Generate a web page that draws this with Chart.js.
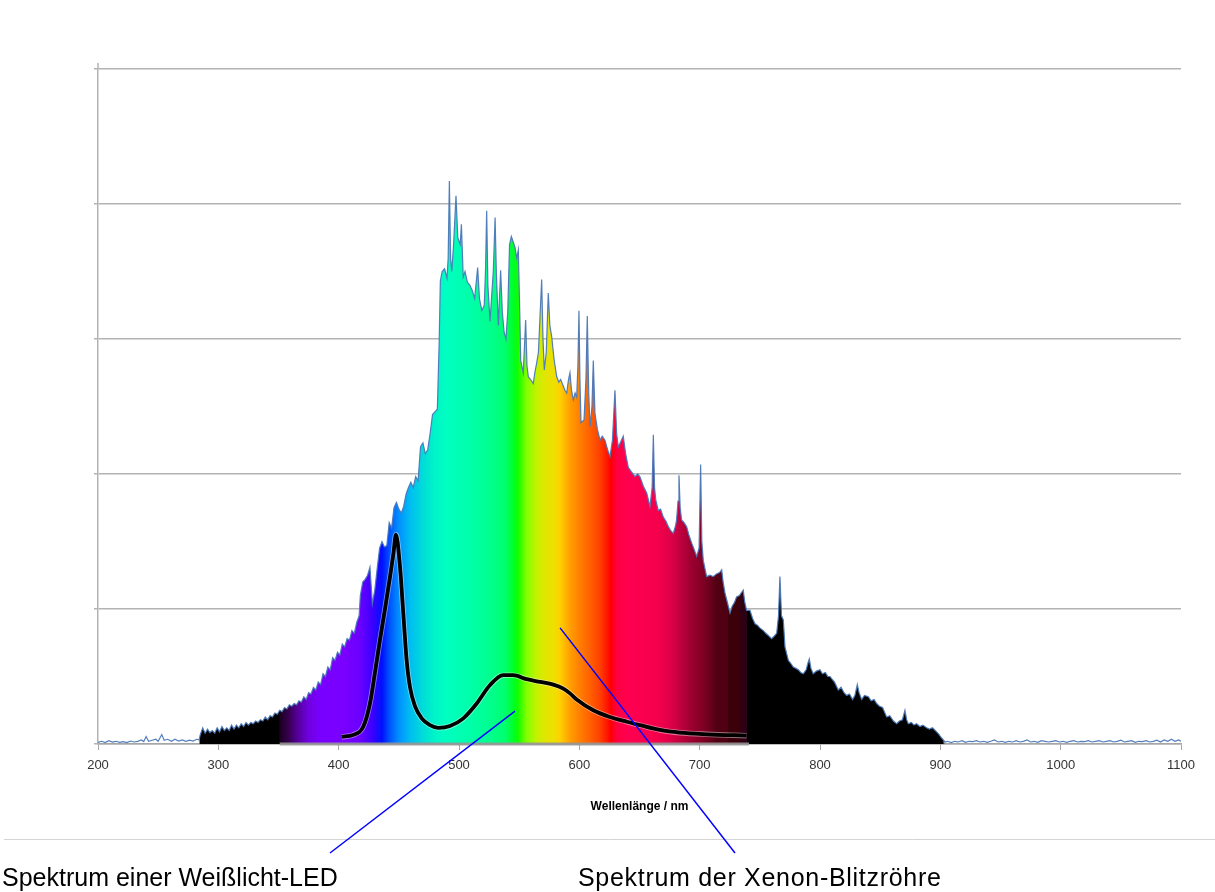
<!DOCTYPE html>
<html><head><meta charset="utf-8">
<script src="https://cdn.jsdelivr.net/npm/chart.js@4"></script>
<style>html,body{margin:0;padding:0;background:#fff;overflow:hidden}canvas{display:block}</style>
</head><body>
<canvas id="c" width="1215" height="892"></canvas>
<script>
// ---------- DATA ----------
const xTicks = [200, 300, 400, 500, 600, 700, 800, 900, 1000, 1100];
const yGridLevels = [0, 1, 2, 3, 4, 5];
const xTitle = 'Wellenlänge / nm';
const ledLabel = 'Spektrum einer Weißlicht-LED';
const xenonLabel = 'Spektrum der Xenon-Blitzröhre';

// Xenon flash tube spectrum: [wavelength nm, relative intensity]
const xenonSpectrum = [
 [200,0.012],[203,0.02],[206,0.01],[209,0.024],[212,0.014],[215,0.02],[218,0.012],[221,0.018],[224,0.01],[227,0.022],
 [230,0.015],[233,0.02],[236,0.03],[238,0.018],[240,0.055],[242,0.02],[245,0.028],[248,0.035],[250,0.02],[253,0.07],
 [255,0.028],[258,0.035],[261,0.02],[264,0.035],[267,0.022],[270,0.03],[273,0.02],[276,0.028],[279,0.022],[282,0.035],[284,0.03],
 [285,0.07],[287,0.12],[289,0.08],[291,0.11],[293,0.085],[295,0.1],[297,0.08],[299,0.12],[301,0.09],[303,0.13],
 [305,0.1],[307,0.12],[309,0.1],[311,0.14],[313,0.11],[315,0.14],[317,0.12],[319,0.15],[321,0.13],[323,0.16],
 [325,0.14],[327,0.16],[329,0.15],[331,0.17],[333,0.16],[335,0.18],[337,0.17],[339,0.2],[341,0.18],[343,0.21],
 [345,0.2],[347,0.23],[349,0.22],[351,0.25],
 [353,0.24],[355,0.27],[357,0.26],[359,0.29],[361,0.28],[363,0.3],[365,0.29],[367,0.32],[369,0.31],[371,0.35],
 [373,0.33],[375,0.38],[377,0.37],[379,0.42],[381,0.4],[383,0.46],[385,0.44],[387,0.52],[389,0.5],[391,0.57],
 [393,0.55],[395,0.64],[397,0.62],[399,0.68],[401,0.66],[403,0.74],[405,0.72],[407,0.78],[409,0.77],[411,0.84],
 [413,0.82],[415,0.9],[417,0.95],[418,1.1],[420,1.2],[422,1.22],[424,1.25],[426,1.31],[428,1.04],[430,1.14],
 [432,1.3],[434,1.45],[436,1.5],[438,1.46],[440,1.47],[442,1.64],[444,1.6],[446,1.75],[448,1.79],[450,1.74],
 [452,1.71],[454,1.76],[456,1.85],[458,1.9],[460,1.94],[462,1.9],[464,1.98],[466,1.95],[468,2.2],[470,2.23],
 [472,2.15],[474,2.18],[476,2.3],[478,2.44],[480,2.46],[482,2.48],[483.5,2.97],[484.5,3.43],[486,3.5],[488,3.52],
 [490,3.45],[491,3.6],[492,4.17],[493,3.6],[494,3.5],[495.5,3.7],[497.5,4.06],[499,3.75],[501,3.7],[502,3.85],
 [503.5,3.46],[505,3.5],[507,3.42],[509,3.4],[511,3.36],[513,3.3],[515.5,3.53],[517,3.3],[519,3.21],[521,3.25],
 [522,3.5],[523,3.95],[524,3.4],[525.8,3.13],[527,3.3],[528.5,3.5],[530,3.9],[531,3.5],[532.7,3.1],[534.6,3.51],
 [536,3.2],[537.5,3.05],[539,3.0],[540.5,3.2],[542,3.7],[543.5,3.76],[545,3.72],[546.5,3.68],[548,3.6],[549.3,3.66],
 [550.5,3.2],[551.3,2.84],[553.4,2.75],[555.4,3.14],[556.5,2.8],[557.6,2.72],[559.5,2.7],[561.7,2.67],[563,2.75],[564.5,2.82],
 [566,2.9],[567.5,3.2],[568.7,3.44],[569.8,3.0],[570.9,2.77],[572.5,2.9],[574.2,3.34],[575.5,3.1],[577,3.02],[579,2.85],
 [581.2,2.72],[583,2.68],[584.5,2.7],[586.7,2.65],[588,2.62],[589.5,2.6],[591,2.7],[592.2,2.75],[593.5,2.62],[595,2.55],
 [596.5,2.6],[597.8,2.57],[598.8,2.8],[599.7,3.21],[600.5,2.7],[601.4,2.38],[603.9,2.4],[605.5,2.7],[606.6,3.17],[607.8,2.6],
 [608.9,2.35],[610.5,2.5],[611.6,2.84],[613,2.45],[615,2.33],[617.2,2.25],[619,2.28],[621.3,2.25],[623.5,2.18],[625.5,2.13],
 [627.5,2.25],[629.6,2.62],[631,2.3],[632.4,2.2],[634.5,2.24],[636.5,2.28],[638.5,2.15],[640.7,2.05],[643,2.02],[646.3,1.98],
 [648.5,2.0],[650.4,1.98],[653.2,1.91],[656,1.86],[658.7,1.76],[660.5,1.9],[661.5,2.29],[662.5,1.9],[663.5,1.81],[665.6,1.73],
 [667.5,1.74],[669.8,1.68],[672,1.65],[674,1.61],[676,1.58],[678.1,1.56],[680,1.62],[680.8,1.66],[682,1.8],[682.8,1.99],
 [683.8,1.75],[685,1.66],[687,1.64],[689.2,1.61],[691,1.55],[693.3,1.49],[695.5,1.44],[697.5,1.39],[699.5,1.45],[700.8,2.07],
 [701.8,1.5],[703,1.36],[705.8,1.24],[708.5,1.25],[711.3,1.24],[714,1.26],[716.5,1.27],[718.3,1.29],[719.5,1.2],[721,1.12],
 [723,1.05],[725.2,0.97],[727,1.02],[729,1.05],[730.7,1.09],[733,1.1],[736.2,1.14],[737.5,1.05],[739,0.99],[741.8,0.99],
 [744,0.93],[746,0.89],[748,0.88],[750,0.86],[752.9,0.84],[755,0.82],[757.5,0.8],[759.8,0.78],[762,0.8],[764,0.82],
 [765.5,0.95],[766.7,1.24],[768,0.95],[769.5,0.92],[770.9,0.72],[773.7,0.62],[775.5,0.6],[777.8,0.57],[780,0.56],[782,0.55],
 [784,0.53],[786.1,0.52],[788.5,0.55],[790,0.6],[791.1,0.63],[792.5,0.56],[794.4,0.52],[797,0.54],[800,0.55],[802,0.52],
 [804.5,0.53],[806.5,0.5],[808.3,0.5],[810,0.48],[812,0.46],[815.2,0.4],[817.5,0.42],[820,0.38],[822.2,0.36],[824.5,0.37],
 [827.1,0.33],[829,0.36],[831,0.44],[832.5,0.38],[834.6,0.33],[837,0.36],[840.2,0.35],[842.5,0.32],[845,0.33],[847.1,0.3],
 [849.5,0.28],[852,0.27],[855.4,0.2],[858,0.21],[861,0.17],[863.7,0.15],[866,0.17],[868.5,0.18],[870.6,0.25],[872,0.18],
 [873.4,0.15],[876,0.16],[878,0.14],[880.3,0.15],[883,0.13],[885.5,0.14],[888.6,0.12],[891,0.11],[893.5,0.12],[896.9,0.09],
 [899,0.07],[900.5,0.05],[902.5,0.03],[904,0.015],
 [906,0.02],[909,0.01],[912,0.02],[915,0.015],[918,0.025],[921,0.012],[924,0.02],[927,0.018],[930,0.025],[933,0.015],
 [936,0.02],[939,0.012],[942,0.02],[945,0.03],[948,0.015],[951,0.02],[954,0.012],[957,0.02],[960,0.015],[963,0.025],
 [966,0.015],[969,0.02],[972,0.03],[975,0.015],[978,0.02],[981,0.012],[984,0.025],[987,0.02],[990,0.015],[993,0.02],
 [996,0.025],[999,0.015],[1002,0.02],[1005,0.012],[1008,0.02],[1011,0.025],[1014,0.015],[1017,0.02],[1020,0.018],[1023,0.025],
 [1026,0.015],[1029,0.02],[1032,0.025],[1035,0.015],[1038,0.02],[1041,0.025],[1044,0.015],[1047,0.02],[1050,0.028],[1053,0.015],
 [1056,0.02],[1059,0.025],[1062,0.012],[1065,0.02],[1068,0.018],[1071,0.025],[1074,0.015],[1077,0.02],[1080,0.028],[1083,0.015],
 [1086,0.03],[1089,0.02],[1092,0.035],[1095,0.02],[1098,0.03],[1100,0.02]
];

// White-light LED spectrum
const ledNm  = [402.5, 412, 420.5, 426, 430, 434.3, 438.5, 442.7, 445.5, 447.6, 451, 453.7, 456.5, 459.3, 463.4, 469, 475.9, 482.8, 492.5, 503.6, 514.7, 525.8, 536.8, 545.1, 556.2, 567.3, 578.4, 586.7, 592.2, 597.8, 611.6, 625.5, 639.4, 650.4, 667, 683.6, 705.8, 739];
const ledVal = [0.054, 0.067, 0.13, 0.30, 0.52, 0.77, 1.0, 1.24, 1.41, 1.55, 1.31, 0.97, 0.62, 0.42, 0.28, 0.19, 0.14, 0.12, 0.133, 0.19, 0.30, 0.437, 0.51, 0.51, 0.48, 0.46, 0.44, 0.41, 0.375, 0.33, 0.25, 0.20, 0.165, 0.14, 0.104, 0.084, 0.072, 0.062];

// Spectrum strip under the curve (wavelength range)
const stripRange = [351, 741];

// Annotation pointer targets (data units) for the two captions
const ledPointer   = [546.5, 0.244];
const xenonPointer = [584, 0.86];

// ---------- STYLE ----------
const rainbowStops = [
 [200,'rgba(255,255,255,0)'],[284,'rgba(255,255,255,0)'],[284.5,'#000000'],[350.5,'#000000'],
 [351,'#1a0020'],[358,'#35004a'],[366,'#55009a'],[375,'#7000e0'],[385,'#7800ff'],[405,'#7a00ff'],
 [418,'#6a00ff'],[428,'#3c00ff'],[436,'#0010ff'],[442,'#0050ff'],[450,'#0090ff'],[460,'#00bff0'],
 [470,'#00dcd8'],[480,'#00f5c8'],[490,'#00ffc0'],[510,'#00ffa8'],[525,'#00ff90'],[538,'#00ff70'],
 [546,'#00ff20'],[549,'#10ff00'],[556,'#80ff00'],[565,'#c8f000'],[573,'#e4e400'],[579,'#eee000'],
 [584,'#ffd000'],[592,'#ffa000'],[600,'#ff8000'],[609,'#ff6000'],[617,'#ff4000'],[623,'#ff1800'],
 [626,'#ff0000'],[631,'#ff0040'],[640,'#ff0050'],[665,'#f5004c'],[675,'#e00048'],[684,'#c0003e'],
 [692,'#a00032'],[703,'#800024'],[711,'#60001a'],[714,'#500012'],[723,'#500012'],[724,'#3c000a'],
 [733,'#3c000a'],[734,'#300012'],[739,'#2c0018'],[739.5,'#000000'],[902,'#000000'],[904,'rgba(0,0,0,0)'],
 [1100,'rgba(0,0,0,0)']
];

function spectrumFill(context) {
  const chart = context.chart;
  const {ctx, chartArea, scales} = chart;
  if (!chartArea || !scales.x) return 'rgba(0,0,0,0)';
  const x0 = scales.x.getPixelForValue(xTicks[0]);
  const x1 = scales.x.getPixelForValue(xTicks[xTicks.length - 1]);
  const g = ctx.createLinearGradient(x0, 0, x1, 0);
  const span = xTicks[xTicks.length - 1] - xTicks[0];
  rainbowStops.forEach(([nm, col]) => g.addColorStop((nm - xTicks[0]) / span, col));
  return g;
}

const captionPlugin = {
  id: 'captions',
  afterDraw(chart) {
    const {ctx, scales, chartArea} = chart;
    ctx.save();
    // y axis line stub above top grid line
    ctx.strokeStyle = '#b3b3b3';
    ctx.lineWidth = 1.5;
    ctx.beginPath();
    ctx.moveTo(chartArea.left, chartArea.top - 6); ctx.lineTo(chartArea.left, chartArea.top);
    ctx.stroke();
    // separator line
    ctx.strokeStyle = '#d4d4d4';
    ctx.lineWidth = 1;
    ctx.beginPath();
    ctx.moveTo(4, 839.5); ctx.lineTo(1215, 839.5);
    ctx.stroke();
    // pointer lines
    ctx.strokeStyle = '#0000ff';
    ctx.lineWidth = 1.5;
    const pts = [[330, 853, ledPointer], [735, 853, xenonPointer]];
    pts.forEach(([sx, sy, p]) => {
      ctx.beginPath();
      ctx.moveTo(sx, sy);
      ctx.lineTo(scales.x.getPixelForValue(p[0]), scales.y.getPixelForValue(p[1]));
      ctx.stroke();
    });
    // captions
    ctx.fillStyle = '#000';
    ctx.font = "25px 'Liberation Sans', Arial, sans-serif";
    ctx.textBaseline = 'alphabetic';
    ctx.textAlign = 'left';
    ctx.fillText(ledLabel, 2, 886);
    ctx.letterSpacing = '0.7px';
    ctx.fillText(xenonLabel, 578, 886);
    ctx.restore();
  }
};

const xenonData = xenonSpectrum.map(([x, y]) => ({x, y}));
const ledData = ledNm.map((x, i) => ({x, y: ledVal[i]}));

new Chart(document.getElementById('c'), {
  type: 'line',
  data: {
    datasets: [
      { label: 'LED', data: ledData, borderColor: '#000000', borderWidth: 3.8, pointRadius: 0,
        fill: false, cubicInterpolationMode: 'monotone', order: 0 },
      { label: 'LED halo', data: ledData, borderColor: 'rgba(255,255,255,0.45)', borderWidth: 5.5, pointRadius: 0,
        fill: false, cubicInterpolationMode: 'monotone', order: 1 },
      { label: 'strip', data: stripRange.map(x => ({x, y: 0})), borderColor: 'rgba(150,150,150,0.9)',
        borderWidth: 3, pointRadius: 0, fill: false, clip: false, order: 2 },
      { label: 'Xenon', data: xenonData, borderColor: 'rgba(75,120,185,0.95)', borderWidth: 1.2,
        backgroundColor: spectrumFill, fill: 'origin', pointRadius: 0, tension: 0, order: 3 }
    ]
  },
  options: {
    responsive: false,
    animation: false,
    devicePixelRatio: 1,
    layout: { padding: { left: 0, right: 34, top: 69, bottom: 0 } },
    plugins: { legend: { display: false }, tooltip: { enabled: false } },
    scales: {
      x: {
        type: 'linear', min: xTicks[0], max: xTicks[xTicks.length - 1],
        afterBuildTicks: s => { s.ticks = xTicks.map(v => ({value: v})); },
        grid: { drawOnChartArea: false, color: '#a6a6a6', tickLength: 6, lineWidth: 1 },
        border: { color: '#a6a6a6', width: 1.5 },
        ticks: { color: '#333333', font: { family: "'Liberation Sans', Arial", size: 13 },
                 padding: 8, maxRotation: 0, autoSkip: false, callback: v => String(v) },
        title: { display: true, text: xTitle, color: '#000',
                 font: { family: "'Liberation Sans', Arial", size: 12, weight: 'bold' },
                 padding: { top: 0, bottom: 77.8 } },
        afterFit: s => { s.height = 148; }
      },
      y: {
        min: yGridLevels[0], max: yGridLevels[yGridLevels.length - 1],
        afterBuildTicks: s => { s.ticks = yGridLevels.map(v => ({value: v})); },
        ticks: { display: false },
        grid: { color: '#b3b3b3', lineWidth: 1.5, tickLength: 4 },
        border: { color: '#b3b3b3', width: 1.5 },
        afterFit: s => { s.width = 98; }
      }
    }
  },
  plugins: [captionPlugin]
});
</script>
</body></html>
